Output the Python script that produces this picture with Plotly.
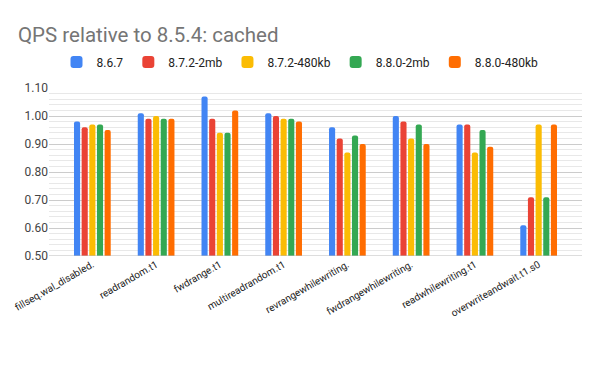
import plotly.graph_objects as go

categories = ["fillseq.wal_disabled.", "readrandom.t1", "fwdrange.t1", "multireadrandom.t1",
              "revrangewhilewriting.", "fwdrangewhilewriting.", "readwhilewriting.t1",
              "overwriteandwait.t1.s0"]
series_names = ["8.6.7", "8.7.2-2mb", "8.7.2-480kb", "8.8.0-2mb", "8.8.0-480kb"]
v_867 = [0.98, 1.01, 1.07, 1.01, 0.96, 1.00, 0.97, 0.61]
v_872_2mb = [0.96, 0.99, 0.99, 1.00, 0.92, 0.98, 0.97, 0.71]
v_872_480kb = [0.97, 1.00, 0.94, 0.99, 0.87, 0.92, 0.87, 0.97]
v_880_2mb = [0.97, 0.99, 0.94, 0.99, 0.93, 0.97, 0.95, 0.71]
v_880_480kb = [0.95, 0.99, 1.02, 0.98, 0.90, 0.90, 0.89, 0.97]
colors = ["#4285F4", "#EA4335", "#FBBC04", "#34A853", "#FF6D01"]
y_ticks = [0.5, 0.6, 0.7, 0.8, 0.9, 1.0, 1.1]

values = [v_867, v_872_2mb, v_872_480kb, v_880_2mb, v_880_480kb]

# page body has an 8px default margin, so the figure is 8px smaller and shifted
W, H = 592, 363

fig = go.Figure()
for name, vals, col in zip(series_names, values, colors):
    fig.add_trace(go.Bar(x=categories, y=vals, name=name, marker_color=col,
                         marker_line_width=0))

fig.update_layout(
    width=W, height=H,
    paper_bgcolor="white", plot_bgcolor="white",
    font=dict(family="Roboto, Arial, sans-serif", color="#444444"),
    title=dict(text="QPS relative to 8.5.4: cached", x=10 / W, xanchor="left",
               xref="container", yref="container",
               y=1 - 27 / H, yanchor="middle",
               font=dict(size=20.5, color="#757575", family="Roboto, Arial, sans-serif")),
    legend=dict(orientation="h", x=292 / W, xanchor="center", xref="container",
                yref="container", y=1 - 54 / H, yanchor="middle",
                font=dict(size=12, color="#222222"), itemwidth=30),
    margin=dict(l=41, r=18, t=80, b=115, autoexpand=False),
    bargap=0.40, bargroupgap=0.2,
    barcornerradius=2,
    xaxis=dict(range=[-0.68, 7.68], tickangle=-30, tickfont=dict(size=10, color="#222222"),
               showgrid=False, showline=False, ticks=""),
    yaxis=dict(range=[0.5, 1.1], tickvals=y_ticks, tickformat=".2f",
               tickfont=dict(size=12, color="#444444"),
               showgrid=True, gridcolor="#cccccc", gridwidth=1,
               zeroline=False, showline=False, ticks="",
               minor=dict(dtick=0.02, showgrid=True, gridcolor="#e8e8e8", gridwidth=1)),
)
fig.add_hline(y=0.5, line_color="#bbbbbb", line_width=1, layer="above")

fig.write_html("out.html")
